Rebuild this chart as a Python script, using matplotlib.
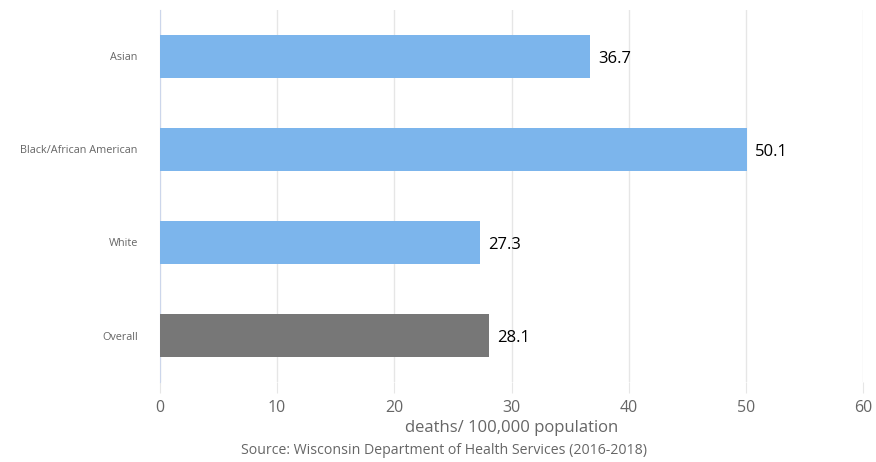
import matplotlib.pyplot as plt

categories = ['Asian', 'Black/African American', 'White', 'Overall']
values = [36.7, 50.1, 27.3, 28.1]
colors = ['#7cb5ec', '#7cb5ec', '#7cb5ec', '#777777']

plt.rcParams['font.family'] = ['Open Sans', 'DejaVu Sans']

fig = plt.figure(figsize=(8.76, 4.62), dpi=100)
ax = fig.add_axes([160 / 876, 80 / 462, 703 / 876, 372 / 462])

ypos = list(range(len(categories)))
ax.barh(ypos, values, height=0.46, color=colors, zorder=3)
for y, v in zip(ypos, values):
    ax.annotate(f'{v}', (v, y), xytext=(6, -1.5), textcoords='offset points',
                va='center', ha='left', fontsize=12, color='black')

ax.set_ylim(len(categories) - 0.5, -0.5)
ax.set_xlim(0, 60)
ax.set_yticks(ypos)
ax.set_yticklabels(categories, fontsize=7.8, color='#666666')
ax.set_xticks(range(0, 61, 10))
ax.tick_params(axis='x', labelsize=11.5, labelcolor='#666666', length=8,
               color='#e6e6e6', pad=5)
ax.tick_params(axis='y', length=0, pad=16)

ax.grid(axis='x', color='#e6e6e6', linewidth=1, zorder=0)
for s in ['top', 'right', 'bottom']:
    ax.spines[s].set_visible(False)
ax.spines['left'].set_color('#ccd6eb')

ax.set_xlabel('deaths/ 100,000 population', fontsize=12, color='#666666',
              labelpad=3)
fig.text(444 / 876, 1 - 451 / 462,
         'Source: Wisconsin Department of Health Services (2016-2018)',
         ha='center', va='center', fontsize=10.2, color='#666666')

fig.savefig('out.png', dpi=100)
